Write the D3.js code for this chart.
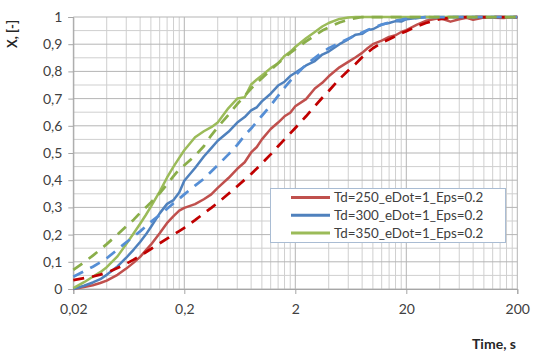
<!DOCTYPE html>
<html>
<head>
<meta charset="utf-8">
<script src="https://cdn.jsdelivr.net/npm/d3@7/dist/d3.min.js"></script>
<style>
  html, body { margin: 0; padding: 0; background: #fff; }
  svg { display: block; font-family: Lato, "Open Sans", sans-serif; }
</style>
</head>
<body>
<svg id="chart" width="537" height="361"></svg>
<script>
// ---------- data ----------
const times = [0.02,0.025,0.03,0.035,0.04,0.05,0.06,0.07,0.08,0.09,
  0.1,0.12,0.14,0.16,0.18,0.2,0.25,0.3,0.35,0.4,
  0.5,0.6,0.7,0.8,0.9,1,1.2,1.4,1.6,1.8,
  2,2.5,3,3.5,4,5,6,7,8,9,
  10,12,14,16,18,20,25,30,40,50,
  60,70,80,100,150,200];

const red250 = [0,0.007,0.014,0.022,0.031,0.052,0.075,0.097,0.118,0.142,
  0.163,0.205,0.243,0.268,0.288,0.298,0.312,0.33,0.348,0.372,
  0.408,0.442,0.466,0.502,0.522,0.55,0.588,0.612,0.635,0.648,
  0.672,0.698,0.737,0.758,0.782,0.815,0.835,0.852,0.868,0.886,
  0.9,0.913,0.927,0.933,0.945,0.952,0.972,0.986,0.996,0.983,
  0.992,0.997,0.99,0.998,0.996,1];

const red250Model = [0.033,0.04,0.046,0.053,0.06,0.077,0.093,0.108,0.122,0.135,
  0.147,0.168,0.185,0.2,0.213,0.225,0.253,0.278,0.298,0.317,
  0.35,0.378,0.402,0.423,0.443,0.462,0.495,0.525,0.55,0.572,
  0.592,0.635,0.672,0.703,0.728,0.772,0.803,0.828,0.852,0.87,
  0.885,0.905,0.918,0.93,0.94,0.948,0.966,0.978,0.992,0.997,
  0.999,1,1,1,1,1];

const blue300 = [0,0.012,0.024,0.036,0.052,0.083,0.115,0.145,0.173,0.2,
  0.228,0.278,0.313,0.327,0.355,0.398,0.445,0.487,0.518,0.545,
  0.578,0.612,0.632,0.657,0.668,0.69,0.718,0.748,0.762,0.783,
  0.795,0.822,0.838,0.862,0.873,0.9,0.918,0.935,0.938,0.952,
  0.955,0.972,0.978,0.985,0.983,0.992,0.996,1,0.998,1,
  1,1,1,1,1,1];

const blue300Model = [0.045,0.065,0.082,0.098,0.113,0.145,0.172,0.193,0.212,0.23,
  0.247,0.272,0.295,0.315,0.332,0.348,0.38,0.405,0.432,0.455,
  0.495,0.53,0.565,0.59,0.615,0.637,0.675,0.71,0.74,0.765,
  0.785,0.825,0.85,0.87,0.885,0.905,0.92,0.933,0.943,0.952,
  0.96,0.972,0.98,0.986,0.99,0.993,0.997,1,1,1,
  1,1,1,1,1,1];

const green350 = [0.003,0.025,0.045,0.062,0.08,0.12,0.165,0.205,0.24,0.272,
  0.303,0.358,0.41,0.45,0.482,0.51,0.558,0.58,0.595,0.612,
  0.665,0.7,0.705,0.752,0.77,0.785,0.812,0.83,0.857,0.872,
  0.89,0.922,0.945,0.965,0.978,0.993,0.998,1,1,1,
  1,1,1,1,1,1,1,1,1,1,
  1,1,1,1,1,1];

const green350Model = [0.07,0.098,0.123,0.145,0.165,0.2,0.23,0.255,0.28,0.3,
  0.318,0.352,0.385,0.415,0.44,0.455,0.49,0.525,0.565,0.595,
  0.64,0.68,0.71,0.737,0.758,0.775,0.805,0.83,0.85,0.868,
  0.882,0.91,0.932,0.95,0.962,0.98,0.99,0.996,1,1,
  1,1,1,1,1,1,1,1,1,1,
  1,1,1,1,1,1];

const legendLabels = ["Td=250_eDot=1_Eps=0.2","Td=300_eDot=1_Eps=0.2","Td=350_eDot=1_Eps=0.2"];
const xTickValues = [0.02,0.2,2,20,200];
const yTickValues = [0,0.1,0.2,0.3,0.4,0.5,0.6,0.7,0.8,0.9,1];
const xTitle = "Time, s";
const yTitle = "X, [-]";

// ---------- chart ----------
const svg = d3.select("#chart");
const L = 73.3, R = 517.3, T = 17, B = 289;
const x = d3.scaleLog().domain([0.02, 200]).range([L, R]);
const y = d3.scaleLinear().domain([0, 1]).range([B, T]);

svg.append("rect").attr("width", 537).attr("height", 361).attr("fill", "#fff");

// grid
const grid = svg.append("g");
const minorX = [];
[0.02, 0.2, 2, 20].forEach(d => { for (let k = 2; k <= 9; k++) minorX.push(d * k); });
grid.selectAll(".vx").data(minorX).enter().append("line")
  .attr("x1", d => x(d)).attr("x2", d => x(d)).attr("y1", T).attr("y2", B)
  .attr("stroke", "#cfcfcf").attr("stroke-width", 1);
const minorY = d3.range(1, 20, 2).map(i => i / 20);
grid.selectAll(".hy").data(minorY).enter().append("line")
  .attr("x1", L).attr("x2", R).attr("y1", d => y(d)).attr("y2", d => y(d))
  .attr("stroke", "#cfcfcf").attr("stroke-width", 1);
grid.selectAll(".vX").data(xTickValues).enter().append("line")
  .attr("x1", d => x(d)).attr("x2", d => x(d)).attr("y1", T).attr("y2", B)
  .attr("stroke", "#b5b5b5").attr("stroke-width", 1);
grid.selectAll(".hY").data(yTickValues).enter().append("line")
  .attr("x1", L).attr("x2", R).attr("y1", d => y(d)).attr("y2", d => y(d))
  .attr("stroke", "#b5b5b5").attr("stroke-width", 1);

// axes
const fmt = d => d3.format("~g")(d).replace(".", ",");
const xAxis = svg.append("g").attr("transform", `translate(0,${B})`)
  .call(d3.axisBottom(x).tickValues(xTickValues).tickFormat(fmt).tickSize(5).tickPadding(10));
const yAxis = svg.append("g").attr("transform", `translate(${L},0)`)
  .call(d3.axisLeft(y).tickValues(yTickValues).tickFormat(fmt).tickSize(5).tickPadding(6));
[xAxis, yAxis].forEach(a => {
  a.selectAll("path").attr("stroke", "#a6a6a6");
  a.selectAll("line").attr("stroke", "#a6a6a6");
  a.selectAll("text").attr("fill", "#404040").style("font-size", "14px")
    .style("font-family", "Lato, 'Open Sans', sans-serif");
});

// lines
const line = d3.line().x(d => x(d[0])).y(d => y(d[1]));
const series = [
  { v: red250, color: "#c0504d", dash: null, w: 2.5 },
  { v: blue300, color: "#4f81bd", dash: null, w: 2.5 },
  { v: green350, color: "#9bbb59", dash: null, w: 2.5 },
  { v: red250Model, color: "#c00000", dash: "11,8", w: 2.75 },
  { v: blue300Model, color: "#558ed5", dash: "11,8", w: 2.75 },
  { v: green350Model, color: "#8aae4a", dash: "11,8", w: 2.75 }
];
series.forEach(s => {
  svg.append("path")
    .datum(times.map((t, i) => [t, s.v[i]]))
    .attr("d", line)
    .attr("fill", "none")
    .attr("stroke", s.color)
    .attr("stroke-width", s.w)
    .attr("stroke-linejoin", "round")
    .attr("stroke-dasharray", s.dash);
});

// legend
const lg = svg.append("g");
lg.append("rect").attr("x", 270.5).attr("y", 188.5).attr("width", 235).attr("height", 54)
  .attr("fill", "#fff").attr("stroke", "#a9bcd3").attr("stroke-width", 1);
const legColors = ["#c0504d", "#4f81bd", "#9bbb59"];
legendLabels.forEach((lab, i) => {
  const yy = 197.5 + i * 17.8;
  lg.append("line").attr("x1", 291).attr("x2", 330).attr("y1", yy).attr("y2", yy)
    .attr("stroke", legColors[i]).attr("stroke-width", 3);
  lg.append("text").attr("x", 334).attr("y", yy).attr("dy", "0.35em")
    .attr("fill", "#404040").style("font-size", "13.4px").text(lab);
});

// titles
svg.append("text").attr("transform", "translate(17,34) rotate(-90)")
  .attr("text-anchor", "middle").attr("fill", "#262626")
  .style("font-size", "13px").style("font-weight", "bold").text(yTitle);
svg.append("text").attr("x", 494).attr("y", 349)
  .attr("text-anchor", "middle").attr("fill", "#262626")
  .style("font-size", "14px").style("font-weight", "bold").text(xTitle);
</script>
</body>
</html>
